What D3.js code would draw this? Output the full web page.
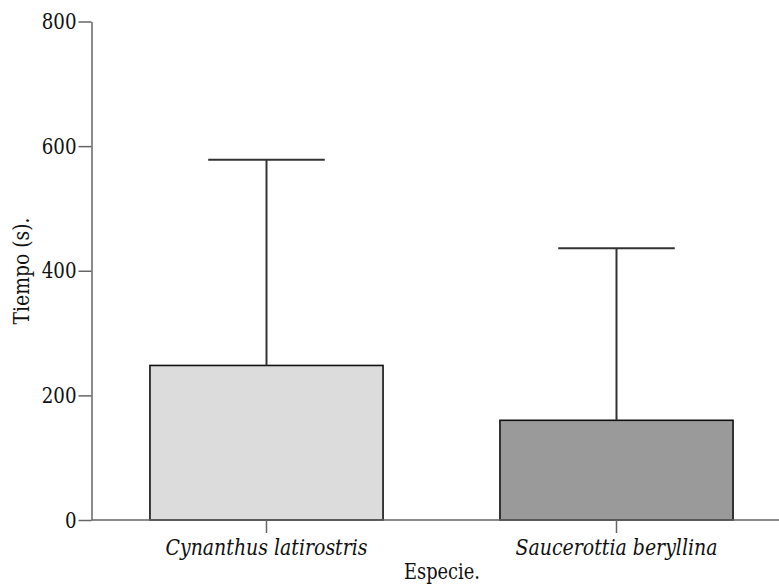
<!DOCTYPE html>
<html><head><meta charset="utf-8">
<script src="https://cdn.jsdelivr.net/npm/d3@7"></script>
<style>body{margin:0;background:#fff}svg{display:block}
svg text{font-family:"DejaVu Serif",serif;}</style>
</head><body>
<svg id="c" width="779" height="584"></svg>
<script>
const categories = ["Cynanthus latirostris", "Saucerottia beryllina"];
const means = [248, 160];
const upper = [578, 436];
const fills = ["#dcdcdc", "#9a9a9a"];
const yTicks = [0, 200, 400, 600, 800];

const svg = d3.select("#c");
const x = d3.scaleBand().domain(categories).range([91.5, 791.5]).paddingInner(0.334).paddingOuter(0.167);
const y = d3.scaleLinear().domain([0, 800]).range([520, 21.5]);

svg.selectAll("rect.bar").data(categories).enter().append("rect")
  .attr("x", d => x(d)).attr("width", x.bandwidth())
  .attr("y", (d,i) => y(means[i])).attr("height", (d,i) => y(0) - y(means[i]))
  .attr("fill", (d,i) => fills[i]).attr("stroke", "#111").attr("stroke-width", 1.6);

const eb = svg.append("g").attr("stroke", "#333").attr("stroke-width", 2);
categories.forEach((d,i) => {
  const cx = x(d) + x.bandwidth()/2;
  eb.append("line").attr("x1", cx).attr("x2", cx).attr("y1", y(means[i])).attr("y2", y(upper[i]));
  eb.append("line").attr("x1", cx - x.bandwidth()/4).attr("x2", cx + x.bandwidth()/4).attr("y1", y(upper[i])).attr("y2", y(upper[i]));
});

const ya = svg.append("g").attr("transform", "translate(91.5,0)")
  .call(d3.axisLeft(y).tickValues(yTicks).tickSize(13).tickPadding(2).tickSizeOuter(0));
ya.attr("font-family", null);
ya.select(".domain").attr("stroke", "#666").attr("stroke-width", 1.5);
ya.selectAll(".tick line").attr("stroke", "#666").attr("stroke-width", 1.5);
ya.selectAll(".tick text").attr("font-size", 22).attr("fill", "#111")
  .attr("textLength", d => String(d).length * 11.6).attr("lengthAdjust", "spacingAndGlyphs");

const xa = svg.append("g").attr("transform", "translate(0,520)")
  .call(d3.axisBottom(x).tickSize(13).tickPadding(4).tickSizeOuter(0));
xa.attr("font-family", null);
xa.select(".domain").attr("d", "M91.5,0H779").attr("stroke", "#666").attr("stroke-width", 1.5);
xa.selectAll(".tick line").attr("stroke", "#666").attr("stroke-width", 1.5);
xa.selectAll(".tick text").attr("dy", null).attr("y", 35).attr("font-size", 22).attr("font-style", "italic").attr("fill", "#111")
  .attr("textLength", 202).attr("lengthAdjust", "spacingAndGlyphs");

svg.append("text").attr("x", 442).attr("y", 579).attr("text-anchor", "middle")
  .attr("font-size", 22).attr("fill", "#111").attr("textLength", 76).attr("lengthAdjust", "spacingAndGlyphs").text("Especie.");
svg.append("text").attr("transform", "translate(29,271) rotate(-90)").attr("text-anchor", "middle")
  .attr("font-size", 22).attr("fill", "#111").attr("textLength", 107).attr("lengthAdjust", "spacingAndGlyphs").text("Tiempo (s).");
</script>
</body></html>
